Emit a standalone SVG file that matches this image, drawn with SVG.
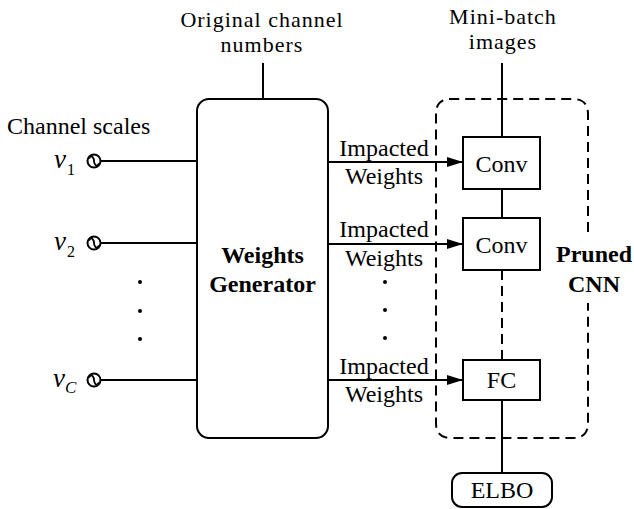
<svg xmlns="http://www.w3.org/2000/svg" width="634" height="509" viewBox="0 0 634 509">
<defs>
<style>
text{font-family:'Liberation Serif','Times New Roman',serif;fill:#000}
.t{font-size:24px}
.h{font-size:22px;letter-spacing:1px}
.b{font-size:24px;font-weight:bold}
.ln{stroke:#000;stroke-width:2;fill:none}
.d{stroke:#000;stroke-width:2;fill:none;stroke-dasharray:10,6}
.v{font-size:27px;font-style:italic}
.s{font-size:16px}
.si{font-size:17px;font-style:italic}
</style>
<marker id="ah" markerWidth="16" markerHeight="10" refX="16" refY="5" orient="auto" markerUnits="userSpaceOnUse">
<path d="M0,0 L16,5 L0,10 Z" fill="#000"/>
</marker>
<g id="src">
<circle cx="0" cy="0" r="6.5" fill="#fff" stroke="#000" stroke-width="2"/>
<path d="M-5,-2.5 C-2,-7.5 0,-2 0,0 C0,2 2,7.5 5,2.5" fill="none" stroke="#000" stroke-width="1.8"/>
</g>
</defs>
<rect width="634" height="509" fill="#fff"/>

<g id="labels">
<text class="h" x="262" y="27" text-anchor="middle">Original channel</text>
<text class="h" x="262" y="52" text-anchor="middle">numbers</text>
<text class="h" x="503" y="24" text-anchor="middle">Mini-batch</text>
<text class="h" x="503" y="49" text-anchor="middle">images</text>
<text class="t" x="7" y="134">Channel scales</text>
</g>

<g id="inputs">
<text class="v" x="54" y="168">v</text><text class="s" x="67" y="175">1</text>
<use href="#src" x="94" y="161"/>
<text class="v" x="54" y="250">v</text><text class="s" x="67" y="257">2</text>
<use href="#src" x="94" y="243"/>
<text class="v" x="53" y="387">v</text><text class="si" x="65" y="393">C</text>
<use href="#src" x="94" y="380"/>
<circle cx="140" cy="282" r="2" fill="#000"/>
<circle cx="140" cy="311" r="2" fill="#000"/>
<circle cx="140" cy="339" r="2" fill="#000"/>
</g>

<g id="generator">
<rect x="197" y="99" width="131" height="339" rx="12" class="ln"/>
<text class="b" x="262.5" y="263" text-anchor="middle">Weights</text>
<text class="b" x="262.5" y="292" text-anchor="middle">Generator</text>
</g>

<g id="pruned-cnn">
<path class="d" d="M588,232 V114 Q588,99 573,99 H451 Q436,99 436,114 V423 Q436,438 451,438 H573 Q588,438 588,423 V303"/>
<text class="b" x="594" y="262" text-anchor="middle">Pruned</text>
<text class="b" x="594" y="292" text-anchor="middle">CNN</text>
</g>

<g id="conv1">
<rect x="463" y="137" width="77" height="52" class="ln" fill="#fff"/>
<text class="t" x="501.5" y="172" text-anchor="middle">Conv</text>
</g>
<g id="conv2">
<rect x="463" y="218" width="77" height="52" class="ln" fill="#fff"/>
<text class="t" x="501.5" y="253" text-anchor="middle">Conv</text>
</g>
<g id="fc">
<rect x="463" y="360" width="77" height="40" class="ln" fill="#fff"/>
<text class="t" x="501.5" y="388" text-anchor="middle">FC</text>
</g>
<g id="elbo">
<rect x="452" y="473" width="100" height="34" rx="10" class="ln" fill="#fff"/>
<text class="t" x="502" y="498" text-anchor="middle">ELBO</text>
</g>

<g id="connectors">
<line class="ln" x1="263" y1="63" x2="263" y2="99"/>
<line class="ln" x1="502" y1="63" x2="502" y2="137"/>
<line class="ln" x1="502" y1="189" x2="502" y2="218"/>
<line class="d" x1="502" y1="270" x2="502" y2="360"/>
<line class="ln" x1="502" y1="400" x2="502" y2="473"/>
<line class="ln" x1="100" y1="161" x2="197" y2="161"/>
<line class="ln" x1="100" y1="243" x2="197" y2="243"/>
<line class="ln" x1="100" y1="380" x2="197" y2="380"/>
<line class="ln" x1="328" y1="162" x2="463" y2="162" marker-end="url(#ah)"/>
<line class="ln" x1="328" y1="244" x2="463" y2="244" marker-end="url(#ah)"/>
<line class="ln" x1="328" y1="380" x2="463" y2="380" marker-end="url(#ah)"/>
<text class="t" x="384" y="156" text-anchor="middle">Impacted</text>
<text class="t" x="384" y="184" text-anchor="middle">Weights</text>
<text class="t" x="384" y="237" text-anchor="middle">Impacted</text>
<text class="t" x="384" y="266" text-anchor="middle">Weights</text>
<circle cx="385" cy="282" r="2" fill="#000"/>
<circle cx="385" cy="310" r="2" fill="#000"/>
<circle cx="385" cy="338" r="2" fill="#000"/>
<text class="t" x="384" y="374" text-anchor="middle">Impacted</text>
<text class="t" x="384" y="402" text-anchor="middle">Weights</text>
</g>
</svg>
